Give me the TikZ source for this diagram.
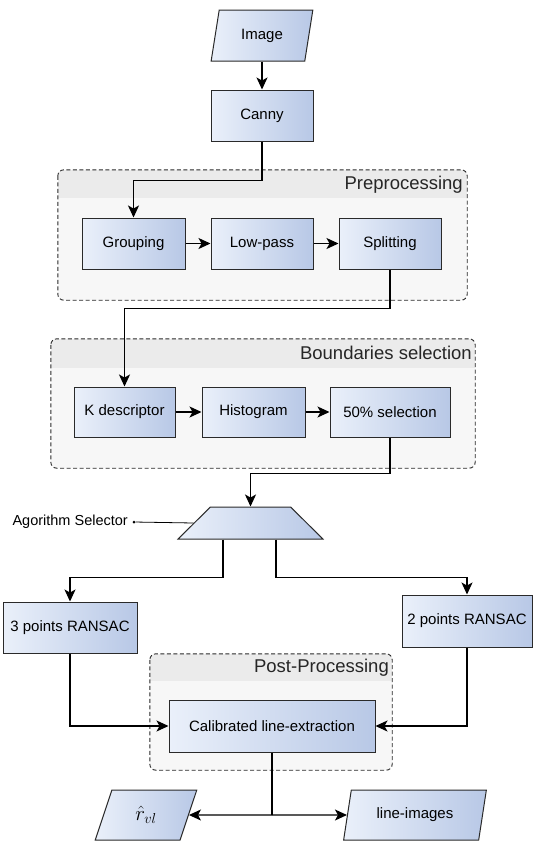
\documentclass[tikz,border=0pt]{standalone}
\usepackage{fontspec}
\setmainfont{Liberation Sans}
\usetikzlibrary{arrows.meta,shapes.geometric}
\definecolor{bl}{HTML}{EAF0FA}
\definecolor{bd}{HTML}{B8C8E6}
\definecolor{cbg}{HTML}{F7F7F7}
\definecolor{chd}{HTML}{EBEBEB}
\definecolor{edge}{HTML}{2A2A2A}
\tikzset{
  blk/.style={draw=edge, line width=1pt, left color=bl, right color=bd, inner sep=0pt,
    font=\fontsize{15}{18}\selectfont},
  para/.style={blk, trapezium, trapezium stretches=true, inner sep=3pt},
  cont/.style={fill=cbg, inner sep=0pt, rounded corners=6pt},
  contborder/.style={draw=edge, line width=0.9pt, dash pattern=on 4pt off 2.5pt, rounded corners=6pt},
  ctitle/.style={anchor=east, inner sep=0pt, font=\fontsize{18.5}{22}\selectfont, text=black!85},
  arr/.style={line width=1.2pt, draw=black, -{Stealth[length=12pt,width=11pt,inset=3pt]}},
  ln/.style={line width=1.2pt, draw=black},
}
\begin{document}
\begin{tikzpicture}[x=1pt,y=-1pt]
\useasboundingbox (0,0) rectangle (533,841);
% containers
\node[cont, minimum width=409pt, minimum height=130pt] (pre) at (262.5,235) {};
\begin{scope}
  \clip[rounded corners=6pt] (pre.north west) rectangle (pre.south east);
  \fill[chd] (pre.north west) rectangle ([yshift=-28pt]pre.north east);
\end{scope}
\draw[contborder] (pre.north west) rectangle (pre.south east);
\node[ctitle] (pret) at (463,185) {Preprocessing};

\node[cont, minimum width=424pt, minimum height=129pt] (bnd) at (263,403.5) {};
\begin{scope}
  \clip[rounded corners=6pt] (bnd.north west) rectangle (bnd.south east);
  \fill[chd] (bnd.north west) rectangle ([yshift=-29pt]bnd.north east);
\end{scope}
\draw[contborder] (bnd.north west) rectangle (bnd.south east);
\node[ctitle] (bndt) at (472,353) {Boundaries selection};

\node[cont, minimum width=242pt, minimum height=116pt] (post) at (271,712) {};
\begin{scope}
  \clip[rounded corners=6pt] (post.north west) rectangle (post.south east);
  \fill[chd] (post.north west) rectangle ([yshift=-27pt]post.north east);
\end{scope}
\draw[contborder] (post.north west) rectangle (post.south east);
\node[ctitle] (postt) at (389,668) {Post-Processing};

% blocks
\node[para, minimum width=102pt, minimum height=51pt, trapezium left angle=77, trapezium right angle=103] (img) at (262,35.5) {Image};
\node[blk, minimum width=102pt, minimum height=51pt] (canny) at (262,115.5) {Canny};
\node[blk, minimum width=103pt, minimum height=51pt] (group) at (133.5,243.5) {Grouping};
\node[blk, minimum width=102pt, minimum height=51pt] (lowp) at (262,243.5) {Low-pass};
\node[blk, minimum width=102pt, minimum height=51pt] (split) at (390,243.5) {Splitting};
\node[blk, minimum width=101pt, minimum height=50pt] (kdesc) at (124.5,412) {K descriptor};
\node[blk, minimum width=103pt, minimum height=50pt] (hist) at (253.5,412) {Histogram};
\node[blk, minimum width=120pt, minimum height=50pt] (sel50) at (390,412) {50\% selection};
\node[para, minimum width=145pt, minimum height=32pt, trapezium left angle=68, trapezium right angle=68] (sel) at (250.5,523) {};
\node[blk, minimum width=134pt, minimum height=51pt] (r3) at (70,627.5) {3 points RANSAC};
\node[blk, minimum width=130pt, minimum height=52pt] (r2) at (467,621) {2 points RANSAC};
\node[blk, minimum width=206pt, minimum height=52pt] (calib) at (272,726) {Calibrated line-extraction};
\node[para, minimum width=102pt, minimum height=50pt, trapezium left angle=74, trapezium right angle=106, font=\fontsize{20}{24}\selectfont] (rvl) at (146,815) {$\hat{r}_{vl}$};
\node[para, minimum width=144pt, minimum height=50pt, trapezium left angle=76, trapezium right angle=104] (limg) at (415,815) {line-images};

% selector label
\node[circle, fill=black, inner sep=0pt, minimum size=3pt] (dotp) at (134,522) {};
\node[anchor=east, inner sep=0pt, font=\fontsize{14.5}{17}\selectfont] (agl) at (128,522) {Agorithm Selector};
\draw[ln, line width=0.8pt] (dotp) -- (sel.west);

% connectors
\draw[arr] (img) -- (canny);
\draw[arr] (canny.south) -- ++(0,39) -| (group.north);
\draw[arr] (group) -- (lowp);
\draw[arr] (lowp) -- (split);
\draw[arr] (split.south) -- ++(0,39) -| (kdesc.north);
\draw[arr] (kdesc) -- (hist);
\draw[arr] (hist) -- (sel50);
\draw[arr] (sel50.south) -- ++(0,36) -| (sel.north);
\coordinate (sl) at ([xshift=-27.5pt]sel.south);
\coordinate (sr) at ([xshift=25.5pt]sel.south);
\draw[arr] (sl) -- ++(0,38) -| (r3.north);
\draw[arr] (sr) -- ++(0,38) -| (r2.north);
\draw[arr] (r3.south) |- (calib.west);
\draw[arr] (r2.south) |- (calib.east);
\coordinate (jn) at (calib.south |- rvl.center);
\draw[ln] (calib.south) -- (jn);
\draw[arr] (jn) -- (rvl.east);
\draw[arr] (jn) -- (limg.west);
\end{tikzpicture}
\end{document}
